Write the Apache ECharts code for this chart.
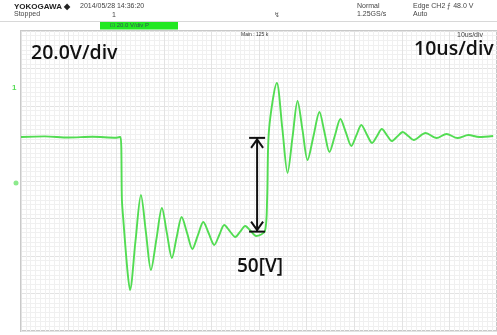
<!DOCTYPE html>
<html>
<head>
<meta charset="utf-8">
<script src="https://cdn.jsdelivr.net/npm/echarts@6/dist/echarts.min.js"></script>
<style>
  html, body { margin: 0; padding: 0; background: #fff; }
  #chart { width: 497px; height: 335px; }
</style>
</head>
<body>
<div id="chart"></div>
<script>
// Time base in microseconds (10 us/div), amplitude in volts (20 V/div)
const timeUs = [
  0, 5, 10, 15, 20, 20.9, 21.2, 21.5, 22.35, 22.9,
  24.05, 25.2, 26.25, 27.3, 28.45, 29.6, 30.65, 31.7, 32.7, 33.75,
  34.9, 36.0, 37.15, 38.3, 39.45, 40.6, 41.65, 42.7, 43.85, 45.0,
  46.05, 47.1, 48.25, 49.4, 51.25, 51.7, 52.1, 53.75, 54.9, 56.0,
  57.05, 58.1, 59.15, 60.2, 61.45, 62.7, 63.75, 64.8, 65.95, 67.1,
  68.25, 69.4, 70.45, 71.5, 72.6, 73.75, 74.8, 75.8, 76.85, 77.9,
  79.05, 80.2, 81.35, 82.5, 85.0, 87.3, 89.4, 91.7, 94.0, 96.25,
  99.2
];
const volts = [
  23.5, 23.8, 23.2, 23.6, 23.1, 23.5, -10, -20.8, -47.5, -58.1,
  -32, -7.5, -27.5, -47.5, -31, -14.4, -27.8, -41.1, -30, -19.2,
  -27.8, -36.3, -29, -21.9, -28, -34.1, -28.8, -23.5, -26.7, -29.9,
  -27, -24.0, -26.6, -29.3, -26.7, -10.1, 27.2, 52.3, 28, 4.3,
  23.5, 42.7, 27, 11.2, 24, 36.8, 26, 15.5, 24.3, 33.1,
  25.9, 18.7, 24.3, 29.9, 25.1, 20.3, 24, 27.7, 24.5, 21.3,
  23.7, 26.1, 24, 21.9, 25.6, 22.9, 25.1, 22.9, 24.5, 23.5,
  24.0
];

// Step measurement arrow
const stepTime = 49.6;
const stepTop = 23;
const stepSpan = 50;
const stepLabel = '50[V]';

const scaleLabels = { volts: '20.0V/div', time: '10us/div' };

const chart = echarts.init(document.getElementById('chart'), null, { renderer: 'canvas' });

const tracePoints = timeUs.map((t, i) => [t, volts[i]]);

const smallFont = 'Liberation Sans, Arial, sans-serif';
const bigFont = '"Open Sans", Lato, sans-serif';

chart.setOption({
  animation: false,
  backgroundColor: '#ffffff',
  grid: {
    left: 21, top: 31, right: -4, bottom: 4,
    show: true, borderColor: '#c9c9c9', borderWidth: 2, backgroundColor: '#ffffff'
  },
  xAxis: {
    type: 'value', min: 0, max: 100, interval: 10,
    axisLine: { show: false }, axisTick: { show: false }, axisLabel: { show: false },
    splitLine: { show: true, lineStyle: { color: '#e3e3e3', width: 1 } },
    minorTick: { show: false, splitNumber: 10 },
    minorSplitLine: { show: true, lineStyle: { color: '#f0f0f0', width: 1 } }
  },
  yAxis: {
    type: 'value', min: -80, max: 80, interval: 20,
    axisLine: { show: false }, axisTick: { show: false }, axisLabel: { show: false },
    splitLine: { show: true, lineStyle: { color: '#e3e3e3', width: 1 } },
    minorTick: { show: false, splitNumber: 8 },
    minorSplitLine: { show: true, lineStyle: { color: '#f0f0f0', width: 1 } }
  },
  series: [
    {
      type: 'line',
      data: tracePoints,
      smooth: 0.3,
      symbol: 'none',
      lineStyle: { color: '#52dc52', width: 1.9 },
      z: 3
    },
    {
      type: 'custom',
      data: [[stepTime, stepTop, stepTop - stepSpan]],
      z: 4,
      renderItem: function (params, api) {
        const p1 = api.coord([api.value(0), api.value(1)]);
        const p2 = api.coord([api.value(0), api.value(2)]);
        const x = p1[0];
        const st = { stroke: '#111', lineWidth: 2, fill: null };
        return {
          type: 'group',
          children: [
            { type: 'line', shape: { x1: x, y1: p1[1], x2: x, y2: p2[1] }, style: st },
            { type: 'line', shape: { x1: x - 8, y1: p1[1], x2: x + 8, y2: p1[1] }, style: st },
            { type: 'line', shape: { x1: x - 8, y1: p2[1], x2: x + 8, y2: p2[1] }, style: st },
            { type: 'polyline', shape: { points: [[x - 6, p1[1] + 10], [x, p1[1] + 1.5], [x + 6, p1[1] + 10]] }, style: st },
            { type: 'polyline', shape: { points: [[x - 6, p2[1] - 10], [x, p2[1] - 1.5], [x + 6, p2[1] - 10]] }, style: st }
          ]
        };
      }
    }
  ],
  graphic: {
    elements: [
      // header
      { type: 'line', z: 100, shape: { x1: 0, y1: 21.5, x2: 497, y2: 21.5 }, style: { stroke: '#d8d8d8', lineWidth: 1 } },
      { type: 'text', z: 100, left: 14, top: 3, style: { text: 'YOKOGAWA ◆', font: 'bold 8px ' + smallFont, fill: '#222' } },
      { type: 'text', z: 100, left: 80, top: 3, style: { text: '2014/05/28 14:36:20', font: '7px ' + smallFont, fill: '#444' } },
      { type: 'text', z: 100, left: 14, top: 11, style: { text: 'Stopped', font: '7px ' + smallFont, fill: '#444' } },
      { type: 'text', z: 100, left: 112, top: 12, style: { text: '1', font: '7px ' + smallFont, fill: '#444' } },
      { type: 'text', z: 100, left: 274, top: 12, style: { text: '↯', font: '7px ' + smallFont, fill: '#666' } },
      { type: 'text', z: 100, left: 357, top: 3, style: { text: 'Normal', font: '7px ' + smallFont, fill: '#444' } },
      { type: 'text', z: 100, left: 357, top: 11, style: { text: '1.25GS/s', font: '7px ' + smallFont, fill: '#444' } },
      { type: 'text', z: 100, left: 413, top: 3, style: { text: 'Edge CH2 ⨍ 48.0 V', font: '7px ' + smallFont, fill: '#444' } },
      { type: 'text', z: 100, left: 413, top: 11, style: { text: 'Auto', font: '7px ' + smallFont, fill: '#444' } },
      { type: 'rect', z: 100, shape: { x: 100, y: 22, width: 78, height: 7.5 }, style: { fill: '#22e822' } },
      { type: 'text', z: 101, left: 110, top: 22.5, style: { text: '⊡ 20.0 V/div P', font: '6px ' + smallFont, fill: '#355' } },
      { type: 'text', z: 100, left: 241, top: 32, style: { text: 'Main : 125 k', font: '5px ' + smallFont, fill: '#333' } },
      { type: 'text', z: 100, left: 457, top: 32, style: { text: '10us/div', font: '7px ' + smallFont, fill: '#444' } },
      // channel markers
      { type: 'text', z: 100, left: 12, top: 84, style: { text: '1', font: 'bold 8px ' + smallFont, fill: '#55dd55' } },
      { type: 'circle', z: 100, shape: { cx: 16, cy: 183, r: 2.5 }, style: { fill: '#8cea8c' } },
      // scale annotations
      { type: 'text', z: 100, left: 31, top: 43, style: { text: scaleLabels.volts, font: '600 19.5px ' + bigFont, fill: '#111' } },
      { type: 'text', z: 100, left: 414, top: 39, style: { text: scaleLabels.time, font: '600 19.5px ' + bigFont, fill: '#111' } },
      { type: 'text', z: 100, left: 237, top: 257, style: { text: stepLabel, font: '600 19px ' + bigFont, fill: '#111' } }
    ]
  }
});
</script>
</body>
</html>
